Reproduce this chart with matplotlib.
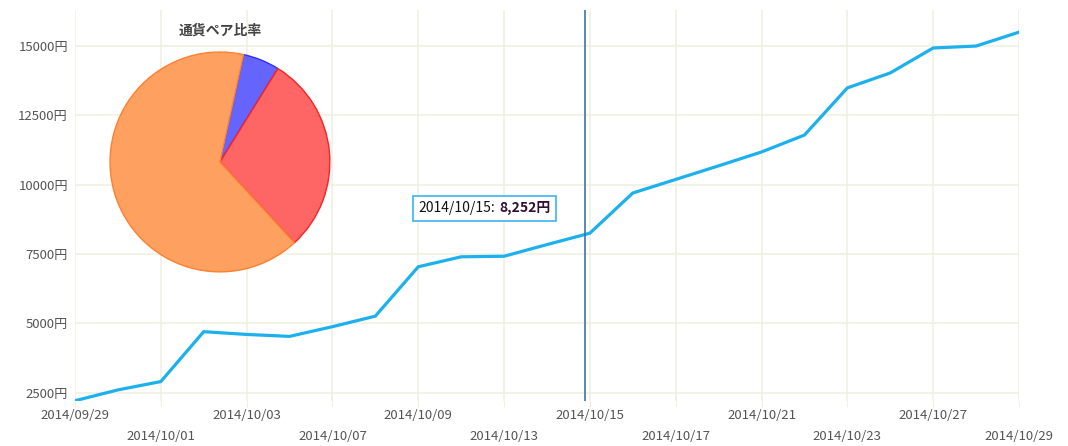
import matplotlib
matplotlib.use("Agg")
import matplotlib.pyplot as plt
from matplotlib.offsetbox import TextArea, HPacker, AnnotationBbox

plt.rcParams['font.family'] = ['Noto Sans CJK JP', 'DejaVu Sans']

# trading days and balance (yen)
dates = ["2014/09/29", "2014/09/30", "2014/10/01", "2014/10/02", "2014/10/03",
         "2014/10/06", "2014/10/07", "2014/10/08", "2014/10/09", "2014/10/10",
         "2014/10/13", "2014/10/14", "2014/10/15", "2014/10/16", "2014/10/17",
         "2014/10/20", "2014/10/21", "2014/10/22", "2014/10/23", "2014/10/24",
         "2014/10/27", "2014/10/28", "2014/10/29"]
balance = [2210, 2600, 2900, 4700, 4600, 4530, 4880, 5260, 7040, 7400,
           7420, 7840, 8252, 9700, 10190, 10680, 11180, 11790, 13490, 14030,
           14930, 15000, 15500]
yticks = [2500, 5000, 7500, 10000, 12500, 15000]

# currency pair share
pie_title = "通貨ペア比率"
pie_share = [5.4, 29.3, 65.3]
pie_colors = ["#6565fd", "#fe6565", "#fda060"]
pie_edges = ["#3030ff", "#ff2020", "#ff8030"]

hover_idx = 12

fig = plt.figure(figsize=(10.68, 4.46), dpi=100)
ax = fig.add_axes([0.0702, 0.1009, 0.8839, 0.8767])

x = list(range(len(dates)))
ax.plot(x, balance, color="#1cb0ec", lw=2.3, solid_joinstyle="round", zorder=3)

ax.set_xlim(0, len(dates) - 1)
ax.set_ylim(2200, 16300)
ax.set_yticks(yticks)
ax.set_yticklabels([f"{v}円" for v in yticks])

# two rows of date labels
ax.set_xticks(x[0::4])
ax.set_xticklabels(dates[0::4])
ax.set_xticks(x[2::4], minor=True)
ax.set_xticklabels(dates[2::4], minor=True)
ax.tick_params(axis="x", which="major", length=4, color="#eeeedd", pad=2)
ax.tick_params(axis="x", which="minor", length=4, color="#eeeedd", pad=17)
ax.tick_params(axis="y", length=0, pad=5)
ax.tick_params(axis="both", which="both", labelsize=9.5, labelcolor="#555555")

ax.grid(True, which="both", color="#efefe0", lw=1.1)
ax.set_axisbelow(True)
for s in ax.spines.values():
    s.set_visible(False)

# hover line + tooltip
ax.axvline(hover_idx - 0.12, color="#3a74b0", lw=1.2, zorder=4)
t1 = TextArea(dates[hover_idx] + ":", textprops=dict(size=10, color="#111111"))
t2 = TextArea(f"{balance[hover_idx]:,}円", textprops=dict(size=10, color="#301030", weight="bold"))
box = HPacker(children=[t1, t2], pad=0, sep=3)
ab = AnnotationBbox(box, (hover_idx, balance[hover_idx]), xybox=(-76, 18),
                    xycoords="data", boxcoords="offset points", frameon=True,
                    bboxprops=dict(edgecolor="#3cb4f0", facecolor="white", lw=1.2),
                    pad=0.4, zorder=5)
ax.add_artist(ab)

# pie inset
pax = fig.add_axes([0.102, 0.388, 0.2079, 0.4978])
wedges, _ = pax.pie(pie_share, colors=pie_colors, startangle=77.6, counterclock=False,
                    wedgeprops=dict(lw=1.0))
for w, ec in zip(wedges, pie_edges):
    w.set_edgecolor(ec)
pax.set_xlim(-1.01, 1.01)
pax.set_ylim(-1.01, 1.01)
pax.set_aspect("equal")
pax.set_title(pie_title, fontsize=10, weight="bold", color="#444444", pad=12)

fig.savefig("out.png", dpi=100)
